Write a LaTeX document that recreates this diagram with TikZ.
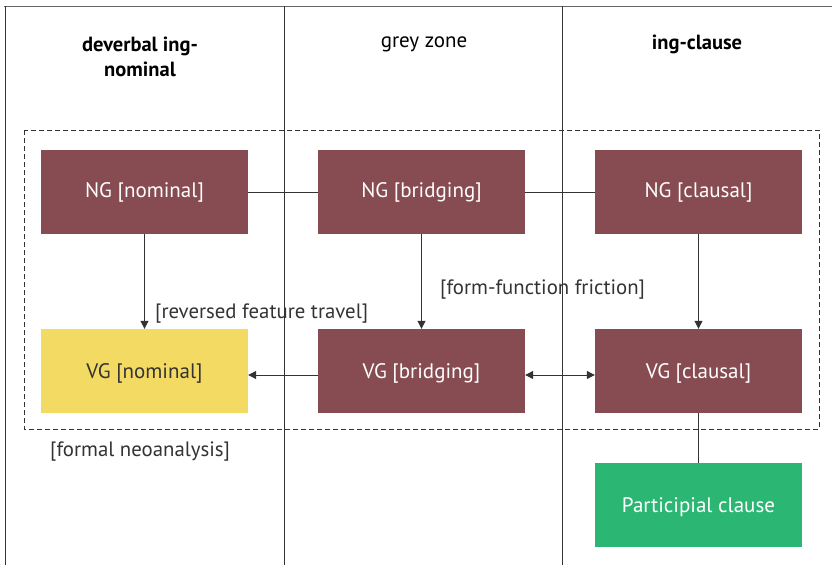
\documentclass[tikz,border=0pt]{standalone}
\usepackage{fontspec}
\setmainfont{PT Sans}
\usetikzlibrary{arrows.meta}
\definecolor{maroon}{HTML}{874C51}
\definecolor{ylw}{HTML}{F3DA62}
\definecolor{grn}{HTML}{2BB673}
\definecolor{ln}{HTML}{333333}
\tikzset{
  box/.style={draw=none, minimum width=207pt, minimum height=84pt, inner sep=0pt, font=\fontsize{21}{24}\selectfont},
  dark/.style={box, fill=maroon, text=white},
  conn/.style={draw=ln, line width=1pt},
  arr/.style={conn, -{Triangle[length=8pt,width=8pt]}},
  darr/.style={conn, {Triangle[length=8pt,width=8pt]}-{Triangle[length=8pt,width=8pt]}},
  lbl/.style={font=\fontsize{20.8}{24}\selectfont, text=ln, inner sep=0pt, anchor=west},
  hdr/.style={font=\fontsize{21}{25}\selectfont, text=black, align=center, inner sep=0pt}
}
\begin{document}
\begin{tikzpicture}[x=1pt,y=-1pt]
\useasboundingbox (0,0) rectangle (832,565);
% frame lines
\draw[draw=gray!80!black, line width=1pt] (4,6.5) -- (832,6.5);
\draw[conn] (5,6) -- (5,565);
\draw[conn] (284,6) -- (284,565);
\draw[conn] (562,6) -- (562,565);
% headers
\node[hdr, font=\bfseries\fontsize{20.5}{25}\selectfont] (h1) at (140,57) {deverbal ing-\\nominal};
\node[hdr] (h2) at (424,44) {grey zone};
\node[hdr, font=\bfseries\fontsize{20.5}{25}\selectfont] (h3) at (697,44) {ing-clause};
% dashed region
\draw[draw=ln, line width=0.9pt, dash pattern=on 5pt off 3pt] (24,130) rectangle (819,429);
% boxes
\node[dark] (ngn) at (144.5,192) {NG [nominal]};
\node[dark] (ngb) at (421.5,192) {NG [bridging]};
\node[dark] (ngc) at (698.5,192) {NG [clausal]};
\node[box, fill=ylw, text=ln, text depth=-2pt] (vgn) at (144.5,371) {VG [nominal]};
\node[dark, text depth=-2pt] (vgb) at (421.5,371) {VG [bridging]};
\node[dark, text depth=-2pt] (vgc) at (698.5,371) {VG [clausal]};
\node[box, fill=grn, text=white, text depth=-2pt] (pc) at (698.5,505) {Participial clause};
% connectors
\draw[conn] (ngn.east) -- (ngb.west);
\draw[conn] (ngb.east) -- (ngc.west);
\draw[arr] (ngn.south) -- (vgn.north);
\draw[arr] (ngb.south) -- (vgb.north);
\draw[arr] (ngc.south) -- (vgc.north);
\draw[arr] ([yshift=-4pt]vgb.west) -- ([yshift=-4pt]vgn.east);
\draw[darr] ([yshift=-4pt]vgb.east) -- ([yshift=-4pt]vgc.west);
\draw[conn] (vgc.south) -- (pc.north);
% labels
\node[lbl] (l1) at (155,314) {[reversed feature travel]};
\node[lbl] (l2) at (440,290) {[form-function friction]};
\node[lbl] (l3) at (50,452) {[formal neoanalysis]};
\end{tikzpicture}
\end{document}
